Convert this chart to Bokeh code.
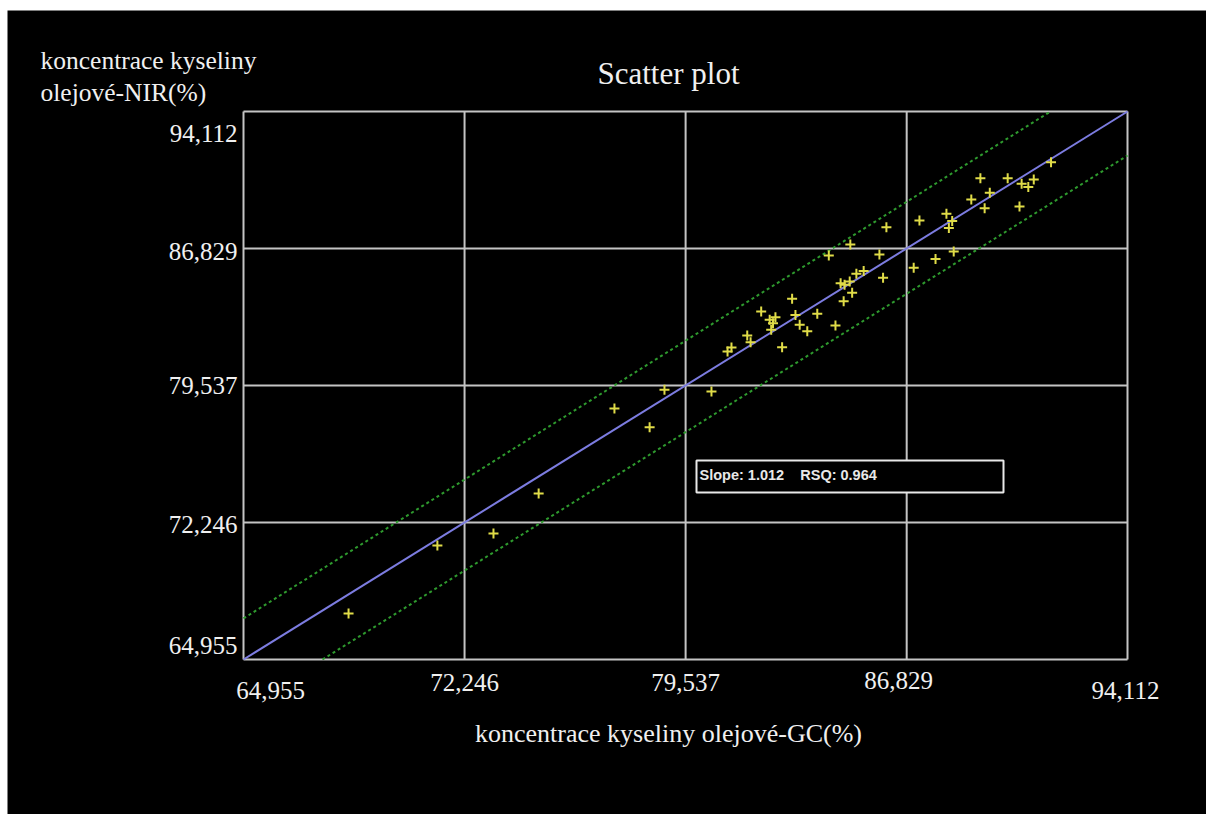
from bokeh.plotting import figure
from bokeh.models import Range1d, Label, BoxAnnotation
from bokeh.core.properties import value
from bokeh.embed import file_html
from bokeh.resources import INLINE

# ---- data ----
tick_values = [64.955, 72.246, 79.537, 86.829, 94.112]
tick_labels = ["64,955", "72,246", "79,537", "86,829", "94,112"]

gc_values = [68.42, 71.35, 73.20, 74.69, 77.19, 78.35, 78.84, 80.39, 80.92, 81.05,
             81.57, 81.68, 82.03, 82.31, 82.50, 82.42, 82.36, 82.72, 83.05, 83.16,
             83.30, 83.55, 83.88, 84.48, 84.75, 85.03, 84.65, 84.78, 84.95, 85.17,
             85.41, 86.05, 84.26, 85.93, 84.97, 86.16, 87.06, 87.25, 87.78, 88.38,
             88.14, 88.33, 88.22, 88.96, 89.40, 89.26, 89.57, 90.16, 90.55, 90.62,
             90.84, 91.02, 91.59]
nir_values = [67.40, 71.02, 71.66, 73.79, 78.31, 77.31, 79.31, 79.21, 81.34, 81.56,
              82.19, 81.84, 83.47, 83.03, 83.17, 82.85, 82.50, 81.57, 84.15, 83.29,
              82.76, 82.42, 83.35, 82.73, 84.02, 84.47, 84.98, 84.90, 85.07, 85.48,
              85.62, 85.26, 86.45, 86.50, 87.04, 87.96, 85.80, 88.31, 86.27, 86.66,
              88.67, 88.28, 87.92, 89.43, 88.97, 90.56, 89.79, 90.56, 89.06, 90.27,
              90.09, 90.49, 91.41]

fit_x = [64.955, 94.112]
fit_y = [64.955, 94.112]
upper_x = [64.955, 91.57]
upper_y = [67.14, 94.112]
lower_x = [67.56, 94.112]
lower_y = [64.955, 91.77]

slope_text = "Slope: 1.012\u00a0\u00a0\u00a0\u00a0RSQ: 0.964"
title_text = "Scatter plot"
x_title = "koncentrace kyseliny olejové-GC(%)"
y_title_lines = ["koncentrace kyseliny", "olejové-NIR(%)"]

# ---- layout (pixels, figure coordinates) ----
W, H = 1199, 804
OX, OY = 7, 10                      # page margin (left, top)
FL, FR, FT, FB = 236, 1120, 101, 649  # inner plot box
lo, hi = tick_values[0], tick_values[-1]
sx = (FR - FL) / (hi - lo)
sy = (FB - FT) / (hi - lo)
x_start, x_end = lo - FL / sx, hi + (W - FR) / sx
y_start, y_end = lo - (H - FB) / sy, hi + FT / sy


def cx(px):  # canvas px -> data x
    return lo + (px - OX - FL) / sx


def cy(py):  # canvas py -> data y
    return lo + (FB - (py - OY)) / sy


SERIF = "Liberation Serif"
TXT = "#f0f0f0"

p = figure(width=W, height=H, output_backend="svg", toolbar_location=None,
           title=None, x_range=Range1d(x_start, x_end), y_range=Range1d(y_start, y_end),
           min_border=0, x_axis_type=None, y_axis_type=None)
p.margin = (OY, 0, 0, OX)
p.background_fill_color = "black"
p.border_fill_color = "black"
p.outline_line_color = None
p.grid.visible = False

n = len(tick_values)
# grid lines (including the box edges)
p.segment(x0=tick_values, y0=[lo] * n, x1=tick_values, y1=[hi] * n,
          line_color="#c4c4c4", line_width=2)
p.segment(x0=[lo] * n, y0=tick_values, x1=[hi] * n, y1=tick_values,
          line_color="#c4c4c4", line_width=2)

# tick labels
y_label_dy = [-14, 2, 0, 3, 22]
x_label_dx = [27, 0, 0, -8, -2]
x_label_dy = [31, 23, 23, 21, 31]
for v, s, dy in zip(tick_values, tick_labels, y_label_dy):
    p.text(x=[lo], y=[v], text=[s], x_offset=-6, y_offset=dy,
           text_align="right", text_baseline="middle",
           text_font=value(SERIF), text_font_size="25px", text_color=TXT)
for v, s, dx, dy in zip(tick_values, tick_labels, x_label_dx, x_label_dy):
    p.text(x=[v], y=[lo], text=[s], x_offset=dx, y_offset=dy,
           text_align="center", text_baseline="middle",
           text_font=value(SERIF), text_font_size="25px", text_color=TXT)

p.line(upper_x, upper_y, line_color="#2e9a2e", line_width=2, line_dash="3 3")
p.line(lower_x, lower_y, line_color="#2e9a2e", line_width=2, line_dash="3 3")
p.line(fit_x, fit_y, line_color="#7c7ce0", line_width=2)

p.scatter(gc_values, nir_values, marker="cross", size=10, line_color="#e0dc48",
          line_width=2)

p.add_layout(BoxAnnotation(left=cx(696), right=cx(1003), bottom=cy(492), top=cy(460),
                           fill_color="black", fill_alpha=1.0,
                           line_color="#e8e8e8", line_width=2, line_alpha=1.0))
p.add_layout(Label(x=cx(699), y=cy(474), text=slope_text, text_font="Liberation Sans",
                   text_font_style="bold", text_font_size="14.5px",
                   text_color="#e8e8e8", text_baseline="middle"))

p.add_layout(Label(x=cx(668), y=cy(73), text=title_text, text_font=SERIF,
                   text_font_size="31px", text_color=TXT,
                   text_align="center", text_baseline="middle"))
p.add_layout(Label(x=cx(668), y=cy(733), text=x_title, text_font=SERIF,
                   text_font_size="26px", text_color=TXT,
                   text_align="center", text_baseline="middle"))
for i, line in enumerate(y_title_lines):
    p.add_layout(Label(x=cx(40), y=cy(60 + 32 * i), text=line, text_font=SERIF,
                       text_font_size="25.5px", text_color=TXT,
                       text_align="left", text_baseline="middle"))

open("out.html", "w").write(file_html(p, INLINE))
